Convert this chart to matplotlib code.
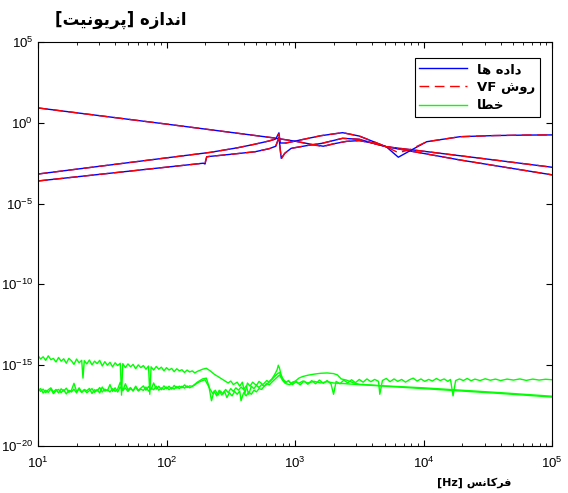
import matplotlib
matplotlib.use("Agg")
import matplotlib.pyplot as plt
from matplotlib.ticker import LogLocator, NullLocator, NullFormatter
import numpy as np

# Persian strings in visual order (presentation forms, so that they are joined)
LBL_DATA = "\uFE8E\uFEEB \uFEE9\uFEA9\uFE8D\uFEA9"          # داده ها
LBL_FIT = "VF \uFEB5\uFEED\uFEAD"                            # روش VF
LBL_ERR = "\uFE8E\uFEC4\uFEA7"                               # خطا
Y_LABEL = "[\uFE96\uFBFF\uFEE7\uFEEE\uFBFE\uFEAE\uFB58] \uFEE9\uFEAF\uFE8D\uFEAA\uFEE7\uFE8D"  # اندازه [پریونیت]
X_LABEL = "[Hz] \uFEB2\uFEE7\uFE8E\uFB90\uFEAE\uFED3"        # فرکانس [Hz]

# values are log10(frequency) / log10(magnitude)
a_freq = [1.00, 2.00, 2.83, 3.01, 3.12, 3.22, 3.30, 3.40, 3.50, 3.60, 3.71, 4.00, 4.50, 5.00]
a_data = [0.92, -0.08, -0.93, -1.15, -1.32, -1.45, -1.30, -1.15, -1.10, -1.25, -1.48, -1.76, -2.25, -2.75]
a_fit = [0.92, -0.08, -0.93, -1.15, -1.34, -1.47, -1.30, -1.15, -1.10, -1.25, -1.48, -1.76, -2.25, -2.75]

b_freq = [1.00, 2.34, 2.55, 2.69, 2.80, 2.85, 2.875, 2.885, 2.93, 3.05, 3.20, 3.37, 3.50,
          3.71, 3.804, 3.895, 4.025, 4.284, 4.55, 4.80, 5.00]
b_data = [-3.17, -1.83, -1.55, -1.32, -1.12, -1.00, -0.62, -1.25, -1.25, -1.05, -0.80, -0.61, -0.82,
          -1.48, -2.13, -1.73, -1.17, -0.86, -0.79, -0.76, -0.75]
b_fit = [-3.17, -1.83, -1.55, -1.32, -1.12, -1.00, -0.70, -1.25, -1.25, -1.05, -0.80, -0.61, -0.82,
         -1.48, -1.85, -1.66, -1.17, -0.86, -0.79, -0.76, -0.75]

c_freq = [1.00, 2.287, 2.300, 2.313, 2.50, 2.69, 2.80, 2.85, 2.875, 2.893, 2.92, 2.97, 3.10,
          3.21, 3.37, 3.50, 3.71, 4.284, 5.00]
c_data = [-3.60, -2.50, -2.55, -2.10, -1.95, -1.79, -1.60, -1.45, -0.90, -2.20, -1.89, -1.58, -1.40,
          -1.27, -0.96, -1.02, -1.48, -2.30, -3.22]
c_fit = [-3.60, -2.50, -2.48, -2.10, -1.95, -1.79, -1.60, -1.45, -0.95, -2.25, -1.89, -1.58, -1.40,
         -1.27, -0.96, -1.02, -1.48, -2.30, -3.22]

# error curves (green)
e1_freq = [1.00, 1.02, 1.04, 1.06, 1.08, 1.10, 1.12, 1.14, 1.16, 1.18, 1.20, 1.22, 1.24, 1.26,
           1.28, 1.30, 1.32, 1.34, 1.35, 1.36, 1.38, 1.40, 1.42, 1.44, 1.46, 1.48, 1.50, 1.52,
           1.54, 1.56, 1.58, 1.60, 1.62, 1.64, 1.65, 1.66, 1.68, 1.70, 1.72, 1.74, 1.76, 1.78,
           1.80, 1.82, 1.84, 1.86, 1.87, 1.88, 1.90, 1.92, 1.94, 1.96, 1.98, 2.00, 2.02, 2.04,
           2.06, 2.08, 2.10, 2.12, 2.14, 2.16, 2.18, 2.20, 2.22, 2.24, 2.26, 2.28,
           2.31, 2.34, 2.37, 2.40, 2.43, 2.45, 2.48, 2.50, 2.52, 2.55, 2.57, 2.59, 2.61, 2.63,
           2.65, 2.67, 2.70, 2.72, 2.75, 2.78, 2.80, 2.83, 2.86, 2.88, 2.90, 2.93, 2.95, 2.97,
           3.00, 3.03, 3.06, 3.10, 3.15, 3.20, 3.25, 3.30, 3.40, 3.50, 3.70, 4.00, 4.30, 4.60,
           5.00]
e1_mag = [-14.40, -14.62, -14.48, -14.70, -14.42, -14.66, -14.58, -14.80, -14.52, -14.75,
          -14.60, -14.88, -14.58, -14.72, -14.95, -14.62, -14.85, -14.70, -15.80, -14.72,
          -14.92, -14.68, -14.98, -14.75, -14.90, -14.70, -15.05, -14.78, -15.00, -14.82,
          -15.10, -14.85, -15.02, -14.88, -16.85, -14.90, -15.15, -14.92, -15.10, -14.95,
          -15.22, -14.98, -15.15, -15.02, -15.25, -15.05, -16.80, -15.10, -15.30, -15.08,
          -15.25, -15.12, -15.35, -15.15, -15.30, -15.20, -15.40, -15.22, -15.35, -15.28,
          -15.45, -15.30, -15.42, -15.35, -15.48, -15.38, -15.32, -15.25,
          -15.19, -15.35, -15.55, -15.70, -15.85, -15.95, -16.10, -15.98, -16.20, -16.05,
          -16.30, -16.05, -16.75, -16.10, -16.30, -16.05, -16.25, -16.00, -16.20, -15.95,
          -16.05, -15.80, -15.55, -15.45, -15.80, -16.05, -15.95, -16.15, -16.00, -16.12,
          -15.98, -16.10, -16.00, -16.10, -16.02, -16.10, -16.15, -16.20, -16.30, -16.45,
          -16.60, -16.75, -16.97]

grid_left = [1.00, 1.02, 1.04, 1.06, 1.08, 1.10, 1.12, 1.14, 1.16, 1.18, 1.20, 1.22, 1.24,
             1.26, 1.28, 1.30, 1.32, 1.34, 1.36, 1.38, 1.40, 1.42, 1.44, 1.46, 1.48, 1.50,
             1.52, 1.54, 1.56, 1.58, 1.60, 1.62, 1.64, 1.66, 1.68, 1.70, 1.72, 1.74, 1.76,
             1.78, 1.80, 1.82, 1.84, 1.86, 1.88, 1.90, 1.92, 1.94, 1.96, 1.98, 2.00, 2.02,
             2.04, 2.06, 2.08, 2.10, 2.12, 2.14, 2.16, 2.18, 2.20, 2.22, 2.24, 2.26, 2.28]

e2_freq = grid_left + [
    2.31, 2.33, 2.35, 2.37, 2.39, 2.41, 2.43, 2.45, 2.47, 2.49, 2.51, 2.53, 2.55, 2.57, 2.58,
    2.60, 2.62, 2.64, 2.66, 2.68, 2.70, 2.72, 2.74, 2.76, 2.78, 2.80, 2.82, 2.84, 2.86, 2.87,
    2.88, 2.89, 2.91, 2.93, 2.96, 2.98, 3.00, 3.03, 3.06, 3.10, 3.15, 3.20, 3.25, 3.30, 3.33,
    3.36, 3.40, 3.45, 3.50, 3.70, 4.00, 4.30, 4.60, 5.00]
e2_mag = [
    -16.45, -16.62, -16.48, -16.70, -16.52, -16.40, -16.66, -16.50, -16.72, -16.46,
    -16.60, -16.42, -16.68, -16.55, -16.12, -16.62, -16.48, -16.70, -16.50, -16.58,
    -16.44, -16.75, -16.52, -16.60, -16.38, -16.66, -16.48, -16.58, -16.20, -16.62,
    -16.40, -16.66, -16.35, -16.58, -16.15, -16.52, -16.38, -16.60, -16.30, -16.55,
    -16.42, -16.28, -16.55, -16.32, -16.50, -16.10, -16.48, -16.30, -16.52, -16.28,
    -16.45, -16.30, -16.48, -16.25, -16.42, -16.30, -16.40, -16.22, -16.38, -16.28,
    -16.30, -16.18, -16.05, -15.95, -15.85,
    -15.80, -16.30, -17.20, -16.60, -16.90, -16.55, -16.85, -16.60, -17.00, -16.70,
    -16.90, -16.62, -16.80, -16.60, -17.20, -16.70, -16.90, -16.65, -16.80, -16.55,
    -16.65, -16.45, -16.50, -16.30, -16.20, -16.00, -15.85, -15.60, -15.30, -15.00,
    -15.20, -15.55, -15.95, -16.15, -16.20, -16.05, -16.00, -15.80, -15.70, -15.62,
    -15.55, -15.50, -15.48, -15.52, -15.60, -15.85, -15.92, -16.08, -16.18, -16.28,
    -16.40, -16.55, -16.70, -16.92]

e3_freq = grid_left + [
    2.30, 2.32, 2.34, 2.36, 2.38, 2.40, 2.42, 2.44, 2.46, 2.48,
    2.50, 2.52, 2.54, 2.56, 2.58, 2.60, 2.62, 2.64, 2.66, 2.68,
    2.70, 2.72, 2.74, 2.76, 2.78, 2.80, 2.82, 2.84, 2.86, 2.88,
    2.90, 2.92, 2.95, 2.98, 3.01, 3.04, 3.07, 3.10, 3.13, 3.16,
    3.19, 3.22, 3.25, 3.28, 3.30, 3.32, 3.35, 3.38, 3.41, 3.44,
    3.47, 3.50, 3.53, 3.56, 3.59, 3.62, 3.65, 3.66, 3.68, 3.71,
    3.74, 3.77, 3.80, 3.83, 3.86, 3.89, 3.92, 3.95, 3.98, 4.01,
    4.04, 4.07, 4.10, 4.13, 4.16, 4.19, 4.21, 4.23, 4.25, 4.28,
    4.31, 4.34, 4.37, 4.40, 4.44, 4.48, 4.52, 4.56, 4.60, 4.65,
    4.70, 4.75, 4.80, 4.85, 4.90, 4.95, 5.00]
e3_mag = [
    -16.58, -16.45, -16.72, -16.55, -16.68, -16.48, -16.76, -16.58, -16.50, -16.70,
    -16.52, -16.78, -16.55, -16.66, -16.48, -16.72, -16.40, -16.65, -16.55, -16.70,
    -16.58, -16.45, -16.68, -16.50, -16.72, -16.35, -16.60, -16.52, -16.66, -16.45,
    -16.62, -16.48, -16.05, -16.55, -16.42, -16.62, -16.45, -16.58, -16.35, -16.60,
    -16.48, -16.56, -16.35, -16.60, -16.42, -16.52, -16.30, -16.55, -16.40, -16.50,
    -16.35, -16.52, -16.38, -16.48, -16.32, -16.45, -16.30, -16.42, -16.28, -16.40,
    -16.32, -16.22, -16.10, -16.02, -15.95,
    -15.90, -16.20, -16.50, -16.75, -16.55, -16.85, -16.60, -16.78, -16.50, -16.70,
    -16.45, -16.62, -16.40, -16.55, -16.35, -16.50, -16.28, -16.80, -16.30, -16.45,
    -16.25, -16.38, -16.20, -16.30, -16.12, -16.22, -16.05, -15.90, -15.75, -15.60,
    -15.90, -16.10, -15.98, -16.20, -16.02, -16.22, -15.98, -16.18, -15.95, -16.15,
    -15.92, -16.12, -15.95, -16.15, -16.80, -16.00, -16.15, -15.92, -16.10, -15.90,
    -16.08, -15.88, -16.05, -15.85, -16.02, -15.88, -16.00, -16.80, -15.95, -15.82,
    -16.02, -15.85, -16.00, -15.88, -16.05, -15.90, -15.80, -15.98, -15.85, -16.00,
    -15.88, -15.98, -15.82, -15.95, -15.85, -16.00, -15.88, -16.90, -15.95, -15.85,
    -15.95, -15.82, -15.96, -15.86, -15.95, -15.84, -15.93, -15.86, -15.95, -15.86,
    -15.92, -15.85, -15.94, -15.86, -15.92, -15.87, -15.90]

plt.rcParams["font.family"] = ["Liberation Sans", "DejaVu Sans"]
plt.rcParams["mathtext.default"] = "regular"
plt.rcParams["axes.unicode_minus"] = False

fig = plt.figure(figsize=(5.68, 4.93), dpi=100)
ax = fig.add_axes([38 / 568, 1 - 446 / 493, 514 / 568, 404 / 493])


def p10(v):
    return np.power(10.0, np.asarray(v, dtype=float))


RED_DASH = (0, (7, 4))

h_data = None
for fr, d in ((a_freq, a_data), (b_freq, b_data), (c_freq, c_data)):
    (h_data,) = ax.plot(p10(fr), p10(d), color="#0000ff", lw=1.0)
h_fit = None
for fr, f in ((a_freq, a_fit), (b_freq, b_fit), (c_freq, c_fit)):
    (h_fit,) = ax.plot(p10(fr), p10(f), color="#ff0000", lw=1.0, linestyle=RED_DASH)
h_err = None
for fr, e in ((e1_freq, e1_mag), (e2_freq, e2_mag), (e3_freq, e3_mag)):
    (h_err,) = ax.plot(p10(fr), p10(e), color="#00ff00", lw=1.0)

ax.set_xscale("log")
ax.set_yscale("log")
ax.set_xlim(1e1, 1e5)
ax.set_ylim(1e-20, 1e5)
ax.set_yticks([1e5, 1e0, 1e-5, 1e-10, 1e-15, 1e-20])
ax.yaxis.set_minor_locator(NullLocator())
ax.xaxis.set_major_locator(LogLocator(base=10))
ax.xaxis.set_minor_locator(LogLocator(base=10, subs=np.arange(2, 10)))
ax.xaxis.set_minor_formatter(NullFormatter())
ax.tick_params(which="both", direction="in", top=True, right=True, labelsize=9.5)
ax.tick_params(which="major", length=4)
ax.tick_params(which="minor", length=2.5)
ax.tick_params(axis="x", pad=7)
for s in ax.spines.values():
    s.set_linewidth(0.8)

leg = ax.legend([h_data, h_fit, h_err], [LBL_DATA, LBL_FIT, LBL_ERR],
                loc="upper right", bbox_to_anchor=(0.977, 0.960), borderaxespad=0,
                fancybox=False, edgecolor="black", framealpha=1,
                handlelength=3.6, handletextpad=0.8, labelspacing=0.4,
                borderpad=0.35, prop={"family": "DejaVu Sans", "weight": "bold", "size": 9.5})
leg.get_frame().set_linewidth(0.8)

fig.text(55 / 568, 1 - 20 / 493, Y_LABEL, ha="left", va="center",
         family="DejaVu Sans", weight="bold", fontsize=12)
fig.text(437 / 568, 1 - 483 / 493, X_LABEL, ha="left", va="center",
         family="DejaVu Sans", weight="bold", fontsize=8)

fig.savefig("out.png", dpi=100)
